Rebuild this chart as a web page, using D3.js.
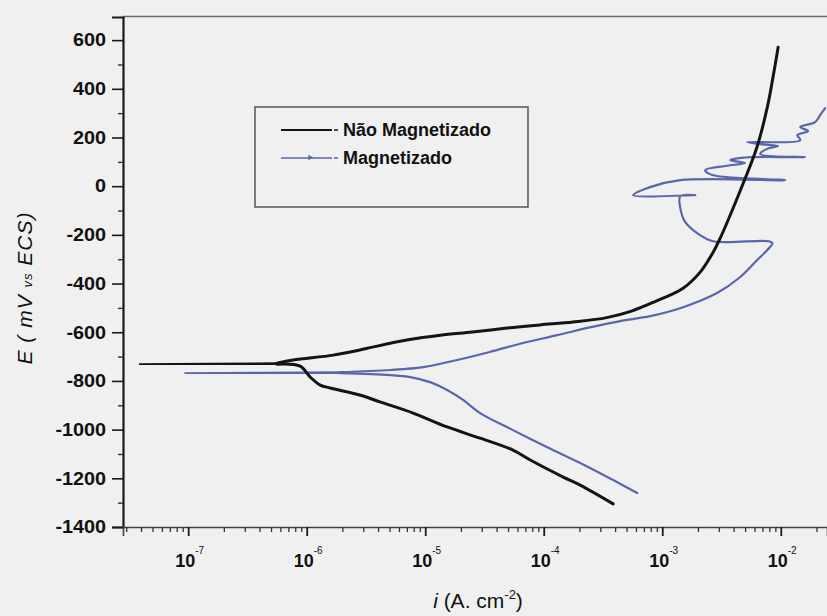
<!DOCTYPE html>
<html>
<head>
<meta charset="utf-8">
<script src="https://cdn.jsdelivr.net/npm/d3@7/dist/d3.min.js"></script>
<style>
  html, body { margin: 0; padding: 0; background: #f0f0f0; }
  svg { display: block; font-family: Arial, "Liberation Sans", sans-serif; }
</style>
</head>
<body>
<svg id="chart" width="827" height="616"></svg>
<script>
// Potentiodynamic polarization curves: current density (A/cm²) vs potential (mV vs ECS)

// Não Magnetizado — cathodic branch, Ecorr tail, anodic branch
const naoMagCurrent = [3.85e-4, 2.03e-4, 1.46e-4, 7.7e-5, 5.5e-5, 2.9e-5, 1.53e-5, 7.9e-6, 4.2e-6, 2.8e-6,
  1.58e-6, 1.3e-6, 1.07e-6, 8.8e-7, 5.6e-7, 3.9e-8, 5.6e-7, 7.7e-7, 1.67e-6, 2.8e-6,
  3.6e-6, 7.0e-6, 1.34e-5, 2.5e-5, 4.9e-5, 9.3e-5, 1.77e-4, 3.4e-4, 5.5e-4, 8.5e-4,
  1.5e-3, 2.09e-3, 2.69e-3, 3.03e-3, 3.54e-3, 4.83e-3, 6.3e-3, 7.7e-3, 8.6e-3, 9.5e-3];
const naoMagPotential = [-1305, -1228, -1195, -1125, -1084, -1035, -989, -932, -887, -858,
  -829, -817, -784, -739, -731, -731, -727, -714, -694, -673,
  -661, -632, -612, -599, -583, -570, -558, -540, -513, -476,
  -419, -353, -271, -221, -147, 13, 161, 325, 448, 571];

// Magnetizado — cathodic branch, Ecorr tail, anodic branch with passivation/pitting noise
const magCurrent = [6.15e-4, 3.85e-4, 2.03e-4, 1.07e-4, 5.5e-5, 2.9e-5, 2.1e-5, 1.53e-5, 1.1e-5, 7.5e-6,
  5.1e-6, 1.92e-6, 9.4e-8, 1.92e-6, 5.1e-6, 9.6e-6, 1.86e-5, 3.5e-5, 6.7e-5, 1.3e-4,
  2.5e-4, 4.4e-4, 7.9e-4, 1.5e-3, 2.9e-3, 4.55e-3, 6.3e-3, 7.7e-3, 8.5e-3, 7.9e-3,
  2.7e-3, 1.97e-3, 1.56e-3, 1.42e-3, 1.42e-3, 1.9e-3, 5.7e-4, 7.9e-4, 1.42e-3, 1.09e-2,
  2.64e-3, 2.3e-3, 3.4e-3, 5.0e-3, 3.75e-3, 5.5e-3, 1.6e-2, 6.7e-3, 7.9e-3, 9.5e-3,
  6.7e-3, 5.2e-3, 1.46e-2, 1.38e-2, 1.7e-2, 1.46e-2, 1.95e-2, 2.15e-2, 2.37e-2];
const magPotential = [-1260, -1207, -1137, -1072, -1002, -932, -879, -837, -805, -784,
  -776, -768, -768, -764, -755, -743, -714, -681, -644, -612,
  -579, -554, -534, -497, -439, -373, -304, -262, -234, -226,
  -226, -193, -147, -90, -41, -37, -37, -4, 25, 25,
  46, 66, 83, 95, 107, 119, 119, 132, 156, 165,
  173, 181, 189, 210, 226, 243, 263, 292, 321];

const yMajorTicks = [600, 400, 200, 0, -200, -400, -600, -800, -1000, -1200, -1400];
const yMinorTicks = [500, 300, 100, -100, -300, -500, -700, -900, -1100, -1300];
const xDecades = [1e-7, 1e-6, 1e-5, 1e-4, 1e-3, 1e-2];
const xDecadeExponents = ["-7", "-6", "-5", "-4", "-3", "-2"];

const seriesNames = ["Não Magnetizado", "Magnetizado"];
const colorNaoMag = "#141414";
const colorMag = "#5a66a8";

const svg = d3.select("#chart");

const x = d3.scaleLog()
  .domain([Math.pow(10, -7.55), Math.pow(10, -1.61)])
  .range([123, 827]);
const y = d3.scaleLinear()
  .domain([-1400, 695])
  .range([527, 17]);

// frame top line
svg.append("line")
  .attr("x1", 123).attr("x2", 827)
  .attr("y1", 16.5).attr("y2", 16.5)
  .attr("stroke", "#6a6a6a").attr("stroke-width", 1.5);

// Y axis
const labelStretch = 1.1;
const yAxis = svg.append("g")
  .attr("transform", "translate(123,0)")
  .call(d3.axisLeft(y).tickValues(yMajorTicks).tickSize(11).tickPadding(5)
    .tickFormat(d => String(d)));
yAxis.select(".domain").attr("stroke", "#1a1a1a").attr("stroke-width", 2.2);
yAxis.selectAll(".tick line").attr("stroke", "#1a1a1a").attr("stroke-width", 1.6);
yAxis.selectAll(".tick text")
  .attr("x", -17 / labelStretch)
  .attr("transform", `scale(${labelStretch},1)`)
  .attr("font-size", 18).attr("font-weight", "bold").attr("fill", "#111")
  .attr("font-family", "Arial, 'Liberation Sans', sans-serif");

const yMinor = svg.append("g")
  .attr("transform", "translate(123,0)")
  .call(d3.axisLeft(y).tickValues(yMinorTicks).tickSize(5).tickFormat(""));
yMinor.select(".domain").remove();
yMinor.selectAll(".tick line").attr("stroke", "#333").attr("stroke-width", 1.4);

// X axis (log)
const xMinorTicks = [];
for (let e = -8; e <= -2; e++) {
  for (let m = 2; m <= 9; m++) {
    const v = m * Math.pow(10, e);
    if (v >= x.domain()[0] && v <= x.domain()[1]) xMinorTicks.push(v);
  }
}

const xAxis = svg.append("g")
  .attr("transform", "translate(0,527)")
  .call(d3.axisBottom(x).tickValues(xDecades).tickSize(9).tickFormat(""));
xAxis.select(".domain").attr("stroke", "#444").attr("stroke-width", 1.6);
xAxis.selectAll(".tick line").attr("stroke", "#1a1a1a").attr("stroke-width", 1.8);

const xMinor = svg.append("g")
  .attr("transform", "translate(0,527)")
  .call(d3.axisBottom(x).tickValues(xMinorTicks).tickSize(5).tickFormat(""));
xMinor.select(".domain").remove();
xMinor.selectAll(".tick line").attr("stroke", "#333").attr("stroke-width", 1.3);

// decade labels 10^n
const xLabels = svg.append("g");
xDecades.forEach((d, k) => {
  xLabels.append("text")
    .attr("x", x(d) + 7).attr("y", 567)
    .attr("text-anchor", "end")
    .attr("font-size", 18).attr("font-weight", "bold").attr("fill", "#111")
    .text("10");
  xLabels.append("text")
    .attr("x", x(d) + 7).attr("y", 554)
    .attr("font-size", 10).attr("fill", "#111")
    .text(xDecadeExponents[k]);
});

// axis titles
const xTitle = svg.append("text")
  .attr("x", 478).attr("y", 608)
  .attr("text-anchor", "middle")
  .attr("font-size", 21).attr("fill", "#111");
xTitle.append("tspan").attr("font-style", "italic").text("i");
xTitle.append("tspan").text(" (A. cm");
xTitle.append("tspan").attr("font-size", 13).attr("dy", -9).text("-2");
xTitle.append("tspan").attr("dy", 9).text(")");

const yTitle = svg.append("text")
  .attr("transform", "translate(32,288) rotate(-90)")
  .attr("text-anchor", "middle")
  .attr("font-size", 21).attr("fill", "#111").attr("font-style", "italic")
  .attr("letter-spacing", 1);
yTitle.append("tspan").text("E ( mV ");
yTitle.append("tspan").attr("font-size", 13).text("vs");
yTitle.append("tspan").text(" ECS)");

// curves
const smooth = d3.line()
  .x(d => x(d[0]))
  .y(d => y(d[1]))
  .curve(d3.curveCatmullRom.alpha(0.5));

const naoMag = naoMagCurrent.map((c, k) => [c, naoMagPotential[k]]);
const mag = magCurrent.map((c, k) => [c, magPotential[k]]);

// split each curve into cathodic branch, Ecorr tail and anodic branch
function drawCurve(pts, tailStart, tailEnd, color, w, wTail) {
  const parts = [
    { p: pts.slice(0, tailStart + 1), w: w },
    { p: pts.slice(tailStart, tailEnd + 1), w: wTail },
    { p: pts.slice(tailEnd), w: w }
  ];
  parts.forEach(part => {
    svg.append("path")
      .datum(part.p)
      .attr("d", smooth)
      .attr("fill", "none")
      .attr("stroke", color)
      .attr("stroke-width", part.w)
      .attr("stroke-linejoin", "round")
      .attr("stroke-linecap", "round");
  });
}

drawCurve(mag, 11, 13, colorMag, 2.2, 1.6);
drawCurve(naoMag, 14, 16, colorNaoMag, 3, 1.8);

// legend
const legend = svg.append("g");
legend.append("rect")
  .attr("x", 255).attr("y", 107).attr("width", 273).attr("height", 100)
  .attr("fill", "none").attr("stroke", "#555").attr("stroke-width", 1.5);

const legendRows = [
  { name: seriesNames[0], color: colorNaoMag, width: 2, yy: 130 },
  { name: seriesNames[1], color: colorMag, width: 1.6, yy: 158 }
];
legendRows.forEach(r => {
  legend.append("line")
    .attr("x1", 281).attr("x2", 332).attr("y1", r.yy).attr("y2", r.yy)
    .attr("stroke", r.color).attr("stroke-width", r.width);
  legend.append("line")
    .attr("x1", 334).attr("x2", 338).attr("y1", r.yy).attr("y2", r.yy)
    .attr("stroke", r.color).attr("stroke-width", 1.5);
  legend.append("text")
    .attr("x", 343).attr("y", r.yy + 6)
    .attr("font-size", 18).attr("font-weight", "bold").attr("fill", "#111")
    .text(r.name);
});
legend.append("path")
  .attr("d", d3.symbol().type(d3.symbolTriangle).size(14)())
  .attr("transform", "translate(310,157.5) rotate(90)")
  .attr("fill", colorMag);
</script>
</body>
</html>
